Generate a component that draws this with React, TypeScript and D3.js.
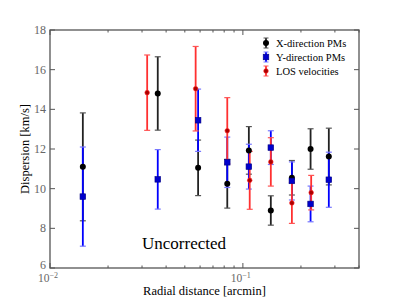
import React from 'react'
import * as d3 from 'd3'

// X-direction proper motions (black)
const xRadius = [0.0148, 0.0362, 0.0586, 0.083, 0.1074, 0.1396, 0.1795, 0.2244, 0.279]
const xDisp = [11.1, 14.8, 11.05, 10.25, 11.93, 8.9, 10.55, 12.0, 11.62]
const xErr = [2.72, 1.85, 1.4, 1.23, 1.2, 0.74, 0.87, 1.02, 1.43]

// Y-direction proper motions (blue)
const yRadius = [0.0148, 0.0362, 0.0586, 0.083, 0.1074, 0.1396, 0.1795, 0.2244, 0.279]
const yDisp = [9.6, 10.47, 13.45, 11.33, 11.11, 12.07, 10.39, 9.23, 10.45]
const yErr = [2.5, 1.5, 1.57, 1.27, 1.13, 0.85, 0.96, 0.9, 1.39]

// line-of-sight velocities (red)
const losRadius = [0.0319, 0.0569, 0.083, 0.1085, 0.1396, 0.1795, 0.226]
const losDisp = [14.84, 15.04, 12.92, 10.42, 11.35, 9.28, 9.8]
const losErr = [1.9, 2.13, 1.67, 1.46, 1.22, 1.03, 0.87]

const yTicks = [6, 8, 10, 12, 14, 16, 18]
const xMajor = [0.01, 0.1]
const xMinor = [0.02, 0.03, 0.04, 0.05, 0.06, 0.07, 0.08, 0.09, 0.2, 0.3, 0.4]
const legendLabels = ['X-direction PMs', 'Y-direction PMs', 'LOS velocities']

const W = 399
const H = 299
const m = { left: 50, right: 40, top: 30, bottom: 31 }
const font = '"Liberation Serif", "DejaVu Serif", serif'

export default function App() {
  const x = d3.scaleLog().domain([0.01, 0.4]).range([m.left, W - m.right])
  const y = d3.scaleLinear().domain([6, 18]).range([H - m.bottom, m.top])
  const x0 = m.left, x1 = W - m.right, y0 = H - m.bottom, y1 = m.top

  const series = [
    { r: xRadius, v: xDisp, e: xErr, line: '#222', cap: '#555', kind: 'circle', fill: '#000', stroke: '#000' },
    { r: yRadius, v: yDisp, e: yErr, line: '#0000ff', cap: '#7777ff', kind: 'square', fill: '#0000cc', stroke: '#000080' },
    { r: losRadius, v: losDisp, e: losErr, line: '#ff3030', cap: '#ff5555', kind: 'small', fill: '#aa0000', stroke: '#ff2020' },
  ]

  const marker = (s: any, cx: number, cy: number, key: string) => {
    if (s.kind === 'square')
      return <rect key={key} x={cx - 2.8} y={cy - 2.8} width={5.6} height={5.6} fill={s.fill} stroke={s.stroke} strokeWidth={0.6} />
    if (s.kind === 'small')
      return <circle key={key} cx={cx} cy={cy} r={2.3} fill={s.fill} stroke={s.stroke} strokeWidth={0.6} />
    return <circle key={key} cx={cx} cy={cy} r={3} fill={s.fill} />
  }

  const bars = (s: any, si: number) =>
    s.r.map((r: number, i: number) => {
      const cx = x(r)
      const top = y(s.v[i] + s.e[i])
      const bot = y(s.v[i] - s.e[i])
      return (
        <g key={`b${si}-${i}`}>
          <line x1={cx} x2={cx} y1={top} y2={bot} stroke={s.line} strokeWidth={1.8} />
          <line x1={cx - 3} x2={cx + 3} y1={top} y2={top} stroke={s.cap} strokeWidth={1.2} />
          <line x1={cx - 3} x2={cx + 3} y1={bot} y2={bot} stroke={s.cap} strokeWidth={1.2} />
        </g>
      )
    })

  return (
    <div style={{ position: 'fixed', left: 0, top: 0 }}>
      <svg width={W} height={H} style={{ display: 'block', background: '#fff' }}>
        {/* ticks on all four sides, pointing inward */}
        {yTicks.map(t => (
          <g key={`yt${t}`}>
            <line x1={x0} x2={x0 + 5} y1={y(t)} y2={y(t)} stroke="#555" />
            <line x1={x1} x2={x1 - 5} y1={y(t)} y2={y(t)} stroke="#555" />
            <text x={46} y={y(t) + (t === 6 ? 1 : 4)} textAnchor="end" fontSize={12} fill="#666" fontFamily={font}>{t}</text>
          </g>
        ))}
        {xMajor.map(t => (
          <g key={`xm${t}`}>
            <line x1={x(t)} x2={x(t)} y1={y0} y2={y0 - 5} stroke="#555" />
            <line x1={x(t)} x2={x(t)} y1={y1} y2={y1 + 5} stroke="#555" />
            <text x={x(t) - 2} y={282} textAnchor="middle" fontSize={11.5} fill="#666" fontFamily={font}>
              10<tspan dy={-4.5} fontSize={8}>{'\u2212' + Math.round(-Math.log10(t))}</tspan>
            </text>
          </g>
        ))}
        {xMinor.map(t => (
          <g key={`xn${t}`}>
            <line x1={x(t)} x2={x(t)} y1={y0} y2={y0 - 2.5} stroke="#555" />
            <line x1={x(t)} x2={x(t)} y1={y1} y2={y1 + 2.5} stroke="#555" />
          </g>
        ))}

        {series.map((s, si) => bars(s, si))}
        {series.map((s, si) => s.r.map((r: number, i: number) => marker(s, x(r), y(s.v[i]), `m${si}-${i}`)))}

        <rect x={x0} y={y1} width={x1 - x0} height={y0 - y1} fill="none" stroke="#555" strokeWidth={1.3} />

        {/* legend */}
        {legendLabels.map((lab, i) => {
          const s = series[i]
          const ly = 43 + i * 14
          return (
            <g key={lab}>
              <line x1={266} x2={266} y1={ly - 5} y2={ly + 5} stroke={s.line} strokeWidth={1.8} />
              <line x1={263.5} x2={268.5} y1={ly - 5} y2={ly - 5} stroke={s.cap} />
              <line x1={263.5} x2={268.5} y1={ly + 5} y2={ly + 5} stroke={s.cap} />
              {marker(s, 266, ly, `lm${i}`)}
              <text x={276} y={ly + 3.5} fontSize={10.5} fontFamily={font} fill="#000">{lab}</text>
            </g>
          )
        })}

        <text x={142} y={249} fontSize={17} fontFamily={font} fill="#000">Uncorrected</text>
        <text x={(x0 + x1) / 2} y={294.5} textAnchor="middle" fontSize={12.5} fontFamily={font} fill="#000">
          Radial distance [arcmin]
        </text>
        <text transform={`translate(29,${(y0 + y1) / 2}) rotate(-90)`} textAnchor="middle" fontSize={12.5} fontFamily={font} fill="#000">
          Dispersion [km/s]
        </text>
      </svg>
    </div>
  )
}
